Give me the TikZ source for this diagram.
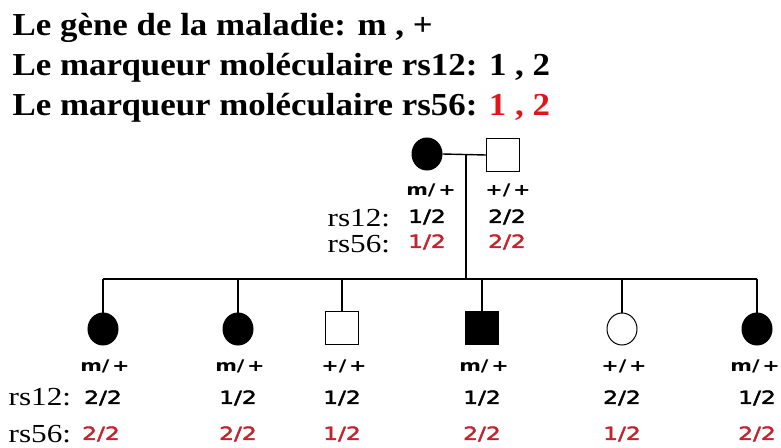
\documentclass[tikz,border=0pt]{standalone}
\usepackage{fontspec}
\usetikzlibrary{shapes.geometric}
\setmainfont{Liberation Serif}
\newfontfamily\titlefont[FakeStretch=1.09]{Liberation Serif}
\newfontfamily\rsfont[FakeStretch=1.2]{Liberation Serif}
\newfontfamily\genfont[FakeStretch=1.3,FakeBold=2.5]{DejaVu Sans}
\newfontfamily\genbfont[FakeStretch=1.3]{DejaVu Sans Bold}
\definecolor{titlered}{RGB}{225,20,25}
\definecolor{genred}{RGB}{195,35,45}
\begin{document}
\begin{tikzpicture}[x=1pt,y=-1pt,
  line width=1.4pt,
  fem/.style={ellipse,draw=black,line width=1pt,minimum width=30pt,minimum height=32pt,inner sep=0pt},
  mal/.style={rectangle,draw=black,line width=1pt,minimum width=33pt,minimum height=33pt,inner sep=0pt},
  aff/.style={fill=black},
  unaff/.style={fill=white},
  title/.style={anchor=base west,inner sep=0pt,font=\titlefont\bfseries\fontsize{32}{32}\selectfont},
  geno/.style={inner sep=0pt,font=\genbfont\fontsize{16}{16}\selectfont},
  mk/.style={inner sep=0pt,font=\genfont\fontsize{18}{18}\selectfont},
  mkr/.style={mk,text=genred},
  rs/.style={inner sep=0pt,anchor=base west,font=\rsfont\fontsize{26}{26}\selectfont}]
\useasboundingbox (0,0) rectangle (781,447);
% titles
\node[title] (t1) at (12,35) {Le gène de la maladie: m , +};
\node[title] (t2) at (12,75) {Le marqueur moléculaire rs12: 1 , 2};
\node[title] (t3) at (12,115) {Le marqueur moléculaire rs56: \textcolor{titlered}{1 , 2}};
% parents
\node[fem,aff] (mo) at (427,154) {};
\node[mal,unaff] (fa) at (503,155) {};
\coordinate (mar) at (466,155);
\coordinate (sib) at (466,279);
\draw (mo.east) -- (fa.west);
\draw (mar) -- (sib);
\node[geno] (mog) at (431,190) {m/\,+};
\node[geno] (fag) at (508,190) {+/\,+};
\node[mk] (mo1) at (427,217) {1/2};
\node[mk] (fa1) at (507,217) {2/2};
\node[mkr] (mo2) at (427,242) {1/2};
\node[mkr] (fa2) at (507,242) {2/2};
\node[rs] (rsp1) at (327,226) {rs12:};
\node[rs] (rsp2) at (327,252) {rs56:};
% sibship line
\coordinate (s1) at (103,279);
\coordinate (s6) at (757,279);
\draw (s1) -- (s6);
% children
\node[fem,aff] (c1) at (103,329) {};
\node[fem,aff] (c2) at (238,329) {};
\node[mal,unaff] (c3) at (342,328) {};
\node[mal,aff] (c4) at (482,328) {};
\node[fem,unaff] (c5) at (622,329) {};
\node[fem,aff] (c6) at (757,329) {};
\foreach \c/\x in {c1/103,c2/238,c3/342,c4/482,c5/622,c6/757}{
  \coordinate (top\c) at (\x,279);
  \draw (top\c) -- (\c.north);
}
\foreach \c/\x/\g in {c1/105/m,c2/240/m,c3/344/+,c4/484/m,c5/624/+,c6/755/m}{
  \node[geno] (\c g) at (\x,366) {\g/\,+};
}
\node[mk] (c1a) at (103,398) {2/2};
\node[mk] (c2a) at (238,398) {1/2};
\node[mk] (c3a) at (342,398) {1/2};
\node[mk] (c4a) at (482,398) {1/2};
\node[mk] (c5a) at (622,398) {2/2};
\node[mk] (c6a) at (757,398) {1/2};
\node[mkr] (c1b) at (101,434) {2/2};
\node[mkr] (c2b) at (238,434) {2/2};
\node[mkr] (c3b) at (342,434) {1/2};
\node[mkr] (c4b) at (482,434) {2/2};
\node[mkr] (c5b) at (622,434) {1/2};
\node[mkr] (c6b) at (757,434) {2/2};
\node[rs] (rsc1) at (8,405) {rs12:};
\node[rs] (rsc2) at (8,442) {rs56:};
\end{tikzpicture}
\end{document}
